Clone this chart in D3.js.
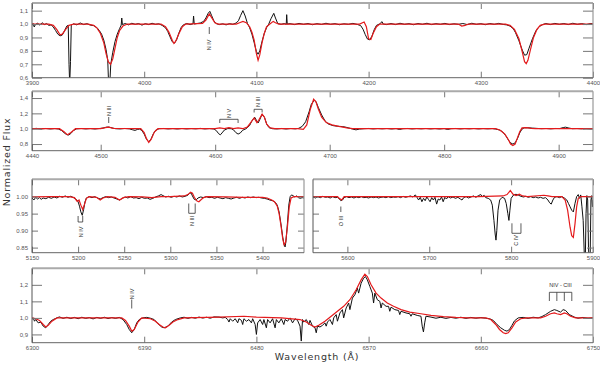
<!DOCTYPE html>
<html><head><meta charset="utf-8">
<script src="https://cdn.jsdelivr.net/npm/d3@7"></script>
<style>body{margin:0;background:#fff}svg{display:block}</style>
</head><body><svg id="c" width="600" height="365"></svg>
<script>
// ---------- DATA ----------
const obs1 = [[3900,0.990],[3901,1.004],[3902,0.978],[3903,0.996],[3905,1.006],[3907,0.992],[3909,1.010],[3911,0.996],[3913,1.004],[3915,0.990],[3917,0.994],[3919,0.978],[3921,0.952],[3923,0.925],[3925,0.912],[3927,0.918],[3929,0.950],[3931,0.985],[3932.3,0.99],[3933,0.70],[3933.6,0.55],[3934.3,0.72],[3935,0.99],[3937,1.002],[3940,0.994],[3943,1.008],[3946,0.996],[3949,1.003],[3952,0.992],[3955,0.988],[3958,0.972],[3960,0.952],[3962,0.925],[3964,0.880],[3966,0.810],[3967.5,0.730],[3968.3,0.55],[3969.3,0.55],[3970.2,0.700],[3972,0.790],[3974,0.870],[3976,0.925],[3978,0.965],[3979.5,0.992],[3980,1.045],[3980.6,0.996],[3983,1.004],[3986,0.994],[3989,1.006],[3992,0.998],[3995,1.004],[3998,0.992],[4001,1.003],[4004,0.996],[4007,1.006],[4010,0.998],[4013,1.002],[4016,0.990],[4019,0.972],[4021,0.945],[4023,0.905],[4025,0.868],[4027,0.858],[4029,0.885],[4031,0.935],[4033,0.975],[4035,0.995],[4038,1.004],[4041,0.996],[4043.5,1.002],[4044,1.06],[4044.6,1.0],[4047,1.004],[4050,1.008],[4053,1.02],[4055,1.045],[4057,1.080],[4058.5,1.095],[4060,1.065],[4062,1.025],[4064,1.004],[4067,0.996],[4070,1.002],[4073,0.994],[4076,1.003],[4079,0.998],[4082,1.008],[4084,1.025],[4086,1.065],[4088,1.100],[4090,1.060],[4092,1.005],[4094,0.972],[4096,0.925],[4098,0.862],[4100,0.795],[4101.5,0.775],[4103,0.800],[4105,0.870],[4107,0.930],[4109,0.972],[4111,1.000],[4113,1.040],[4115.5,1.080],[4117,1.045],[4119,1.004],[4122,0.998],[4125,1.004],[4126.6,0.998],[4127,1.07],[4127.5,1.0],[4130,1.003],[4134,0.996],[4138,1.005],[4142,0.998],[4146,1.004],[4150,0.995],[4154,1.003],[4158,0.997],[4162,1.006],[4166,0.998],[4170,1.003],[4174,0.995],[4178,1.002],[4182,0.998],[4186,1.005],[4190,0.997],[4193,0.988],[4195,0.962],[4197,0.922],[4199,0.888],[4201,0.882],[4203,0.910],[4205,0.958],[4207,0.990],[4210,1.002],[4212,1.018],[4213,1.0],[4216,0.996],[4220,1.004],[4224,0.996],[4228,1.006],[4232,0.998],[4236,1.003],[4240,0.995],[4244,1.004],[4248,0.998],[4252,1.006],[4256,0.996],[4260,1.003],[4264,0.998],[4268,1.005],[4272,0.996],[4276,1.002],[4280,0.998],[4284,1.004],[4288,0.996],[4292,1.006],[4296,0.998],[4300,1.003],[4304,0.995],[4308,1.004],[4312,0.998],[4316,1.005],[4320,0.997],[4323,0.994],[4326,0.985],[4329,0.965],[4331,0.935],[4334,0.875],[4337,0.805],[4339,0.768],[4341,0.772],[4343,0.820],[4346,0.890],[4349,0.948],[4352,0.980],[4355,0.996],[4358,1.004],[4362,0.996],[4366,1.005],[4370,0.998],[4374,1.004],[4378,0.996],[4382,1.006],[4386,0.998],[4390,1.003],[4394,0.996],[4398,1.004],[4400,1.0]];
const mod1 = [[3900,1.0],[3915,1.0],[3919,0.99],[3922,0.96],[3925,0.92],[3927,0.925],[3930,0.96],[3933,0.99],[3937,1.0],[3950,1.0],[3955,0.99],[3958,0.97],[3961,0.93],[3964,0.86],[3966,0.78],[3968,0.72],[3970,0.70],[3972,0.74],[3974,0.82],[3976,0.9],[3978,0.95],[3981,0.985],[3985,1.0],[4015,1.0],[4019,0.98],[4022,0.94],[4025,0.88],[4026.5,0.855],[4028,0.87],[4031,0.93],[4034,0.98],[4037,1.0],[4052,1.005],[4055,1.03],[4058,1.075],[4060,1.05],[4063,1.01],[4066,1.0],[4082,1.0],[4085,1.01],[4088,1.02],[4091,1.01],[4094,0.98],[4096,0.94],[4098,0.88],[4100,0.78],[4101.5,0.73],[4103,0.77],[4105,0.86],[4107,0.93],[4109,0.98],[4112,1.0],[4115,1.02],[4117,1.01],[4120,1.0],[4192,1.0],[4196,1.015],[4198,0.98],[4200,0.89],[4202,0.885],[4204,0.93],[4207,0.98],[4210,1.0],[4280,1.0],[4283,0.985],[4286,0.99],[4289,1.0],[4322,1.0],[4326,0.99],[4330,0.96],[4334,0.89],[4337,0.79],[4339,0.72],[4340.5,0.705],[4342,0.73],[4344,0.8],[4347,0.9],[4350,0.96],[4353,0.99],[4357,1.0],[4400,1.0]];

const obs2 = [[4440,1.0],[4444,1.004],[4448,0.997],[4452,1.003],[4456,0.996],[4460,1.002],[4463,0.996],[4466,0.975],[4468,0.948],[4470,0.925],[4472,0.918],[4474,0.938],[4476,0.975],[4479,0.998],[4483,1.003],[4487,0.997],[4491,1.002],[4495,0.996],[4499,1.003],[4502,1.008],[4505,1.020],[4507,1.022],[4510,1.010],[4513,1.0],[4517,0.997],[4521,1.003],[4525,0.998],[4528,0.985],[4530,0.978],[4532,0.99],[4534,0.995],[4536,0.975],[4538,0.930],[4540,0.862],[4542,0.830],[4544,0.865],[4546,0.935],[4548,0.980],[4551,1.0],[4555,1.003],[4559,0.997],[4563,1.002],[4567,0.996],[4571,1.003],[4575,0.997],[4579,1.002],[4583,0.998],[4587,1.004],[4591,0.997],[4595,1.002],[4599,0.996],[4601,0.975],[4603,0.935],[4604.5,0.920],[4606,0.945],[4608,0.982],[4611,1.002],[4614,1.0],[4616,0.985],[4618,0.950],[4620,0.930],[4622,0.945],[4624,0.98],[4627,1.0],[4630,1.04],[4632,1.10],[4634.5,1.150],[4636,1.11],[4637.5,1.075],[4639,1.12],[4641,1.190],[4643,1.15],[4645,1.06],[4647,1.015],[4650,1.0],[4654,0.997],[4658,1.003],[4662,0.996],[4666,1.003],[4670,0.998],[4673,1.005],[4676,1.030],[4679,1.090],[4682,1.220],[4684,1.320],[4686.5,1.370],[4688,1.355],[4690,1.280],[4693,1.180],[4696,1.100],[4699,1.060],[4703,1.040],[4707,1.032],[4711,1.028],[4714,1.020],[4717,1.008],[4720,0.995],[4723,0.985],[4726,0.995],[4730,1.0],[4734,1.003],[4738,0.997],[4742,1.002],[4746,0.998],[4750,1.003],[4754,0.996],[4758,1.002],[4761,0.99],[4764,1.0],[4768,1.003],[4772,0.997],[4776,1.002],[4780,0.998],[4784,1.003],[4788,0.997],[4792,1.002],[4796,0.996],[4800,1.002],[4803,0.99],[4806,1.0],[4810,1.003],[4814,0.997],[4818,1.002],[4822,0.998],[4826,1.003],[4830,0.997],[4834,1.002],[4838,0.998],[4842,1.002],[4845,0.995],[4848,0.985],[4851,0.96],[4854,0.905],[4856,0.855],[4858,0.815],[4860,0.800],[4862,0.815],[4864,0.870],[4866,0.945],[4868,0.995],[4870,1.012],[4873,1.012],[4877,1.008],[4881,1.004],[4885,1.0],[4889,1.003],[4893,0.998],[4897,1.003],[4901,1.002],[4904,1.015],[4906,1.020],[4909,1.008],[4912,1.0],[4916,1.002],[4920,0.998],[4924,1.003],[4928,0.998],[4930,1.0]];
const mod2 = [[4440,1.0],[4464,1.0],[4468,0.96],[4471,0.92],[4474,0.95],[4478,1.0],[4500,1.0],[4504,1.015],[4507,1.02],[4511,1.005],[4535,1.0],[4538,0.95],[4540,0.87],[4542,0.82],[4544,0.86],[4547,0.96],[4550,1.0],[4600,1.0],[4604,1.01],[4608,1.0],[4612,1.015],[4616,1.0],[4620,1.01],[4624,1.0],[4628,1.02],[4631,1.08],[4634,1.14],[4636.5,1.08],[4638,1.11],[4641,1.19],[4643,1.15],[4645,1.06],[4648,1.01],[4652,1.0],[4672,1.0],[4677,0.99],[4680,1.05],[4683,1.25],[4686,1.385],[4688,1.35],[4690,1.26],[4693,1.15],[4697,1.08],[4702,1.05],[4708,1.03],[4715,1.01],[4720,1.0],[4845,1.0],[4849,0.98],[4853,0.93],[4856,0.86],[4858,0.80],[4860,0.78],[4862,0.8],[4864,0.88],[4866,0.96],[4868,1.01],[4872,1.015],[4876,1.005],[4880,1.0],[4930,1.0]];

const obs3 = [[5150,0.996],[5152,0.990],[5154,0.998],[5156,0.993],[5158,0.997],[5160,0.992],[5162,0.996],[5165,0.994],[5168,0.998],[5171,0.995],[5174,0.999],[5177,0.996],[5180,1.001],[5183,0.998],[5186,1.002],[5189,0.998],[5192,1.001],[5195,0.997],[5198,0.992],[5200,0.985],[5201.5,0.972],[5203,0.955],[5204.5,0.945],[5206,0.962],[5207.5,0.985],[5209,0.996],[5212,1.0],[5215,0.997],[5218,1.0],[5221,0.996],[5224,0.993],[5227,0.997],[5230,1.0],[5233,0.997],[5236,0.999],[5239,0.996],[5242,0.993],[5245,0.990],[5248,0.995],[5251,0.999],[5254,0.996],[5257,1.0],[5260,0.996],[5263,0.997],[5266,0.994],[5269,0.998],[5272,0.995],[5275,0.996],[5278,0.992],[5281,0.995],[5284,0.999],[5287,1.002],[5290,1.006],[5292,1.003],[5295,0.999],[5298,1.001],[5301,0.998],[5304,1.001],[5307,0.999],[5310,1.002],[5313,0.999],[5316,1.001],[5319,1.004],[5321,1.010],[5322.5,1.011],[5324,1.002],[5326,0.992],[5328,0.990],[5330,0.996],[5333,0.999],[5336,0.997],[5339,1.0],[5342,0.997],[5345,0.998],[5348,0.995],[5351,0.998],[5354,0.996],[5357,0.994],[5360,0.997],[5363,0.995],[5366,0.993],[5369,0.996],[5372,0.998],[5375,0.995],[5378,0.998],[5381,0.996],[5384,0.999],[5387,0.997],[5390,0.999],[5393,0.997],[5396,0.998],[5399,0.996],[5402,0.995],[5405,0.993],[5408,0.990],[5411,0.988],[5414,0.983],[5416,0.975],[5418,0.955],[5420,0.920],[5422,0.880],[5423.5,0.858],[5424.5,0.852],[5425.5,0.870],[5427,0.920],[5428.5,0.975],[5430,1.0],[5431.5,1.005],[5433,1.003],[5435,0.999],[5437,1.002],[5439,0.997],[5441,0.995],[5443,0.997],[5445,0.996]];
const mod3 = [[5150,0.999],[5170,1.0],[5190,1.0],[5196,0.997],[5199,0.986],[5201,0.99],[5203,0.975],[5205,0.962],[5207,0.978],[5209,0.995],[5212,1.0],[5220,0.998],[5224,0.99],[5227,0.996],[5232,1.0],[5240,0.998],[5245,0.99],[5249,0.997],[5255,1.0],[5270,0.999],[5280,0.997],[5290,1.0],[5300,1.0],[5315,1.002],[5319,1.006],[5322,1.013],[5324,1.01],[5326,0.998],[5329,0.987],[5331,0.985],[5333,0.99],[5336,0.997],[5340,1.0],[5360,0.999],[5380,0.998],[5400,0.998],[5405,0.996],[5410,0.99],[5413,0.985],[5416,0.972],[5418,0.95],[5420,0.915],[5422,0.875],[5423.5,0.858],[5425,0.865],[5427,0.91],[5429,0.97],[5431,0.996],[5434,1.0],[5445,1.0]];

const obs4 = [[5558,0.999],[5561,0.996],[5564,1.0],[5567,0.997],[5570,1.001],[5573,0.998],[5576,0.999],[5579,0.996],[5582,1.0],[5585,0.997],[5588,0.998],[5590,0.994],[5592,0.988],[5594,0.99],[5596,0.997],[5599,1.0],[5602,0.997],[5605,0.999],[5608,0.996],[5611,0.999],[5614,0.997],[5617,1.0],[5620,0.997],[5623,0.998],[5626,0.996],[5629,0.999],[5632,0.997],[5635,0.999],[5638,0.996],[5641,0.998],[5644,0.999],[5647,0.997],[5650,1.0],[5653,0.997],[5656,0.999],[5659,0.998],[5662,1.0],[5665,0.997],[5668,1.001],[5671,0.998],[5674,1.0],[5677,1.002],[5680,0.999],[5683,1.005],[5685,0.998],[5687,0.99],[5689,0.998],[5691,0.985],[5693,0.995],[5695,0.988],[5697,0.999],[5699,0.992],[5701,0.985],[5703,0.997],[5705,0.99],[5707,0.998],[5709,0.978],[5711,0.993],[5713,0.99],[5715,0.999],[5717,0.985],[5719,0.998],[5721,0.993],[5723,1.0],[5726,0.996],[5729,0.999],[5732,0.995],[5735,0.998],[5738,0.993],[5740,0.99],[5742,0.997],[5745,1.0],[5748,0.996],[5751,0.999],[5754,1.002],[5757,0.998],[5760,1.003],[5763,1.006],[5765,1.0],[5767,1.004],[5769,0.997],[5772,0.995],[5775,0.99],[5777,0.975],[5779,0.93],[5780.5,0.89],[5781.5,0.872],[5782.5,0.90],[5784,0.96],[5786,0.99],[5789,0.998],[5792,0.995],[5794,0.98],[5796,0.95],[5797.3,0.93],[5798.5,0.96],[5800,0.995],[5803,1.005],[5806,1.007],[5809,1.004],[5812,1.001],[5815,0.999],[5818,1.001],[5821,0.998],[5824,1.0],[5827,0.997],[5830,0.999],[5833,0.996],[5836,0.998],[5839,0.995],[5842,0.997],[5845,0.99],[5847,0.982],[5849,0.978],[5851,0.99],[5853,0.998],[5856,1.0],[5859,0.997],[5862,1.0],[5865,0.996],[5868,0.99],[5870,0.98],[5872,0.97],[5874,0.96],[5876,0.955],[5878,0.98],[5880,1.0],[5882,1.006],[5883.5,0.995],[5885,1.005],[5886.5,0.97],[5888,0.93],[5889.5,0.82],[5890.5,0.80],[5891.5,0.95],[5892.5,1.003],[5893.5,0.99],[5894.5,0.85],[5895.5,0.80],[5896.5,0.82],[5897.5,0.99],[5898.5,1.003],[5899.3,0.97],[5900,0.99]];
const mod4 = [[5558,1.0],[5588,1.0],[5590,0.995],[5593,0.99],[5596,1.0],[5700,1.0],[5760,1.0],[5790,1.002],[5795,1.006],[5799,1.018],[5802,1.008],[5806,1.003],[5810,1.007],[5814,1.002],[5820,1.0],[5840,1.004],[5845,1.002],[5850,1.0],[5862,1.0],[5866,0.99],[5869,0.96],[5872,0.91],[5874,0.885],[5876,0.88],[5878,0.92],[5880,0.97],[5882,0.995],[5885,1.0],[5900,1.0]];

const obs5 = [[6300,0.99],[6301,1.0],[6302,0.98],[6303,0.99],[6305,0.97],[6307,0.975],[6309,0.95],[6311,0.94],[6313,0.96],[6315,0.98],[6317,0.99],[6320,1.0],[6322,1.006],[6325,0.997],[6328,1.004],[6331,0.996],[6334,1.003],[6337,0.995],[6340,1.004],[6343,0.997],[6346,1.002],[6349,0.994],[6352,1.003],[6355,0.997],[6358,1.004],[6361,0.996],[6364,1.002],[6367,0.997],[6370,1.003],[6373,0.99],[6376,0.96],[6378,0.93],[6380,0.91],[6382,0.93],[6384,0.97],[6386,0.99],[6389,1.0],[6392,1.003],[6395,0.998],[6398,0.99],[6401,0.965],[6404,0.945],[6406,0.94],[6409,0.95],[6412,0.975],[6415,0.99],[6419,1.0],[6422,1.004],[6425,0.997],[6428,1.003],[6431,0.998],[6434,1.005],[6437,0.999],[6440,1.004],[6443,0.998],[6446,1.006],[6450,1.005],[6453,1.0],[6455,1.003],[6457,0.99],[6458,0.975],[6459,0.995],[6461,0.98],[6463,0.995],[6465,0.97],[6466,0.995],[6468,0.985],[6469,0.96],[6470,0.995],[6472,0.98],[6474,0.99],[6476,0.97],[6477,0.995],[6479,0.96],[6480,0.9],[6481,0.97],[6483,0.99],[6485,0.96],[6486,0.99],[6488,0.94],[6489,0.99],[6491,0.97],[6493,0.995],[6495,0.94],[6496,0.99],[6498,0.97],[6500,0.995],[6502,0.96],[6503,0.99],[6505,0.98],[6507,1.0],[6509,0.97],[6511,0.995],[6513,0.985],[6515,0.95],[6516,0.86],[6517,0.99],[6518,0.975],[6520,0.99],[6522,0.96],[6523,0.985],[6525,0.95],[6527,0.94],[6528,0.91],[6529,0.95],[6531,0.945],[6533,0.955],[6535,0.97],[6536,0.95],[6537,0.975],[6539,0.99],[6541,0.96],[6542,1.0],[6544,1.02],[6545,0.98],[6547,1.03],[6549,1.05],[6550,1.0],[6552,1.06],[6554,1.09],[6555,1.05],[6557,1.12],[6559,1.14],[6561,1.18],[6562,1.15],[6564,1.21],[6566,1.24],[6567.5,1.25],[6569,1.23],[6571,1.19],[6573,1.15],[6574,1.09],[6575,1.15],[6577,1.11],[6579,1.1],[6580,1.06],[6581,1.09],[6584,1.07],[6586,1.07],[6587,1.04],[6588,1.065],[6591,1.05],[6594,1.045],[6595,1.02],[6596,1.04],[6600,1.03],[6603,1.025],[6604,1.01],[6605,1.025],[6609,1.015],[6612,1.01],[6613,0.95],[6614,0.915],[6615,0.97],[6616,1.01],[6620,1.005],[6624,0.998],[6628,1.004],[6632,0.997],[6636,1.003],[6640,0.998],[6644,1.004],[6648,0.997],[6652,1.003],[6656,0.998],[6660,1.002],[6664,0.998],[6667,0.995],[6670,0.985],[6673,0.96],[6676,0.94],[6679,0.925],[6681,0.92],[6683,0.93],[6685,0.955],[6687,0.982],[6690,1.0],[6694,1.003],[6698,0.997],[6702,1.004],[6706,1.0],[6709,1.008],[6712,1.02],[6716,1.04],[6719,1.05],[6721,1.045],[6724,1.035],[6726,1.05],[6728,1.045],[6731,1.02],[6735,1.005],[6738,0.998],[6742,1.003],[6746,0.997],[6750,1.0]];
const mod5 = [[6300,1.0],[6303,0.995],[6306,0.985],[6309,0.96],[6311,0.945],[6313,0.955],[6316,0.98],[6320,1.0],[6372,1.0],[6375,0.985],[6378,0.95],[6380,0.92],[6382,0.93],[6385,0.975],[6388,1.0],[6395,0.995],[6399,0.98],[6402,0.96],[6405,0.945],[6407,0.94],[6410,0.955],[6413,0.975],[6417,0.99],[6422,1.0],[6450,1.005],[6470,1.01],[6480,1.005],[6500,1.0],[6515,0.99],[6520,0.975],[6524,0.955],[6527,0.945],[6530,0.955],[6535,0.98],[6540,1.01],[6545,1.04],[6550,1.07],[6555,1.11],[6560,1.17],[6564,1.23],[6567,1.265],[6569,1.25],[6572,1.2],[6576,1.15],[6580,1.12],[6585,1.09],[6590,1.07],[6596,1.05],[6603,1.035],[6612,1.025],[6620,1.015],[6630,1.008],[6640,1.003],[6650,1.0],[6664,1.0],[6668,0.99],[6672,0.96],[6675,0.93],[6678,0.91],[6680,0.905],[6682,0.91],[6685,0.94],[6688,0.975],[6692,0.995],[6697,1.0],[6708,1.0],[6712,1.01],[6716,1.025],[6719,1.03],[6721,1.025],[6724,1.02],[6727,1.03],[6729,1.025],[6732,1.01],[6736,1.0],[6750,1.0]];

const xTicks1 = [3900,4000,4100,4200,4300,4400];
const yTicks1 = [0.6,0.7,0.8,0.9,1.0,1.1];
const xTicks2 = [4440,4500,4600,4700,4800,4900];
const yTicks2 = [0.8,1.0,1.2,1.4];
const xTicks3 = [5150,5200,5250,5300,5350,5400];
const yTicks3 = [0.85,0.90,0.95,1.00];
const xTicks4 = [5600,5700,5800,5900];
const xTicks5 = [6300,6390,6480,6570,6660,6750];
const yTicks5 = [0.9,1.0,1.1,1.2];

// ---------- DRAW ----------
const svg = d3.select("#c");
const FONT = "'Liberation Sans', Arial, sans-serif";
let clipId = 0;

function panel(cfg){
  const x = d3.scaleLinear().domain(cfg.xd).range([cfg.x0, cfg.x1]);
  const y = d3.scaleLinear().domain(cfg.yd).range([cfg.y1, cfg.y0]);
  const g = svg.append("g");
  const id = "clip" + (clipId++);
  svg.append("clipPath").attr("id", id).append("rect")
    .attr("x", cfg.x0).attr("y", cfg.y0).attr("width", cfg.x1-cfg.x0).attr("height", cfg.y1-cfg.y0);
  const line = d3.line().x(d=>x(d[0])).y(d=>y(d[1]));
  const lg = g.append("g").attr("clip-path", `url(#${id})`);
  lg.append("path").datum(cfg.obs).attr("d", line).attr("fill","none").attr("stroke","#111").attr("stroke-width",1);
  lg.append("path").datum(cfg.mod).attr("d", line).attr("fill","none").attr("stroke","#e41a1c").attr("stroke-width",1.2);

  const tl = cfg.tick || 9;
  const bottom = d3.axisBottom(x).tickValues(cfg.xt).tickSizeInner(-6).tickSizeOuter(0).tickPadding(3).tickFormat(d3.format("d"));
  const top = d3.axisTop(x).tickValues(cfg.xt).tickSizeInner(-6).tickSizeOuter(0).tickFormat("");
  const left = d3.axisLeft(y).tickValues(cfg.yt).tickSizeInner(-tl).tickSizeOuter(0).tickPadding(4)
      .tickFormat(cfg.yLabels ? (d=>cfg.fmt(d)) : "");
  const right = d3.axisRight(y).tickValues(cfg.yt).tickSizeInner(-tl).tickSizeOuter(0).tickFormat("");
  const ax = [
    g.append("g").attr("transform",`translate(0,${cfg.y1})`).call(bottom),
    g.append("g").attr("transform",`translate(0,${cfg.y0})`).call(top),
    g.append("g").attr("transform",`translate(${cfg.x0},0)`).call(left),
    g.append("g").attr("transform",`translate(${cfg.x1},0)`).call(right)
  ];
  ax.forEach(a=>{
    a.select(".domain").remove();
    a.selectAll("line").attr("stroke","#777").attr("stroke-width",1);
    a.selectAll("text").attr("font-family",FONT).attr("font-size",6).attr("fill","#555");
  });
  g.append("line").attr("x1",cfg.x0).attr("x2",cfg.x1).attr("y1",cfg.y0).attr("y2",cfg.y0).attr("stroke","#aaa").attr("stroke-width",2);
  g.append("line").attr("x1",cfg.x1).attr("x2",cfg.x1).attr("y1",cfg.y0).attr("y2",cfg.y1).attr("stroke","#999").attr("stroke-width",1.2);
  g.append("line").attr("x1",cfg.x0).attr("x2",cfg.x1).attr("y1",cfg.y1).attr("y2",cfg.y1).attr("stroke","#666").attr("stroke-width",1);
  g.append("line").attr("x1",cfg.x0).attr("x2",cfg.x0).attr("y1",cfg.y0).attr("y2",cfg.y1).attr("stroke","#555").attr("stroke-width",1);
  return {x,y,g};
}

const commaFmt = d => d3.format(".1f")(d).replace(".", ",");
const dotFmt = d => d3.format(".2f")(d);

const p1 = panel({x0:32,x1:593,y0:3,y1:77.7,xd:[3900,4400],yd:[0.6,1.157],xt:xTicks1,yt:yTicks1,obs:obs1,mod:mod1,fmt:commaFmt,yLabels:true,tick:10});
const p2 = panel({x0:32,x1:593,y0:91.3,y1:150.7,xd:[4440,4930],yd:[0.713,1.488],xt:xTicks2,yt:yTicks2,obs:obs2,mod:mod2,fmt:commaFmt,yLabels:true,tick:10});
const p3 = panel({x0:32,x1:304,y0:179.3,y1:252.7,xd:[5150,5445],yd:[0.835,1.051],xt:xTicks3,yt:yTicks3,obs:obs3,mod:mod3,fmt:dotFmt,yLabels:true,tick:6});
const p4 = panel({x0:313,x1:593,y0:179.3,y1:252.7,xd:[5558,5900],yd:[0.835,1.051],xt:xTicks4,yt:yTicks3,obs:obs4,mod:mod4,fmt:dotFmt,yLabels:false,tick:6});
const p5 = panel({x0:32,x1:593,y0:268.3,y1:342.7,xd:[6300,6750],yd:[0.85,1.30],xt:xTicks5,yt:yTicks5,obs:obs5,mod:mod5,fmt:commaFmt,yLabels:true,tick:10});

// ---------- LINE IDENTIFICATIONS ----------
const ann = svg.append("g").attr("stroke","#333").attr("stroke-width",0.8).attr("fill","none");
function vtext(px, py, t){
  svg.append("text").attr("transform",`translate(${px},${py}) rotate(-90)`)
    .attr("text-anchor","middle").attr("dy","0.35em").attr("font-family",FONT).attr("font-size",5.5).attr("fill","#333").text(t);
}
function tickMark(px, ya, yb){ ann.append("line").attr("x1",px).attr("x2",px).attr("y1",ya).attr("y2",yb); }
function bracketUp(xa, xb, yTop, yBot){ ann.append("path").attr("d",`M${xa},${yBot}V${yTop}H${xb}V${yBot}`); }
function bracketDown(xa, xb, yTop, yBot){ ann.append("path").attr("d",`M${xa},${yTop}V${yBot}H${xb}V${yTop}`); }
// panel 1
tickMark(p1.x(4058), 27, 34); vtext(p1.x(4058), 45, "N IV");
// panel 2
tickMark(p2.x(4507), 117, 123); vtext(p2.x(4507), 111, "N III");
bracketUp(p2.x(4604), p2.x(4620), 119.3, 123); vtext((p2.x(4604)+p2.x(4620))/2, 113.5, "N V");
bracketUp(p2.x(4634), p2.x(4641), 109.3, 112.5); vtext((p2.x(4634)+p2.x(4641))/2, 102, "N III");
// panel 3
bracketDown(p3.x(5200), p3.x(5205), 216, 222); vtext(p3.x(5203), 232, "N IV");
bracketDown(p3.x(5320), p3.x(5327), 203.5, 213.3); vtext(p3.x(5323.5), 221, "N III");
// panel 4
tickMark(p4.x(5592), 206.5, 212); vtext(p4.x(5592), 221, "O III");
bracketDown(p4.x(5801), p4.x(5812), 223.3, 233.3); vtext(p4.x(5806), 240.5, "C IV");
// panel 5
tickMark(p5.x(6380), 299.5, 308.5); vtext(p5.x(6380), 294, "N IV");
[6715,6721,6727,6733].forEach(w=>tickMark(p5.x(w), 292.3, 301));
ann.append("line").attr("x1",p5.x(6715)).attr("x2",p5.x(6733)).attr("y1",292.3).attr("y2",292.3);
svg.append("text").attr("x",p5.x(6724)).attr("y",287).attr("text-anchor","middle").attr("font-family",FONT).attr("font-size",5.5).attr("fill","#333").text("NIV - CIII");

// ---------- AXIS TITLES ----------
svg.append("text").attr("transform","translate(10,162) rotate(-90)").attr("text-anchor","middle")
  .attr("font-family","'DejaVu Sans', sans-serif").attr("font-size",9.5).attr("letter-spacing",0.8).attr("fill","#333").text("Normalized Flux");
svg.append("text").attr("x",317).attr("y",360).attr("text-anchor","middle")
  .attr("font-family","'DejaVu Sans', sans-serif").attr("font-size",9.5).attr("letter-spacing",0.8).attr("fill","#333").text("Wavelength (Å)");
</script></body></html>
